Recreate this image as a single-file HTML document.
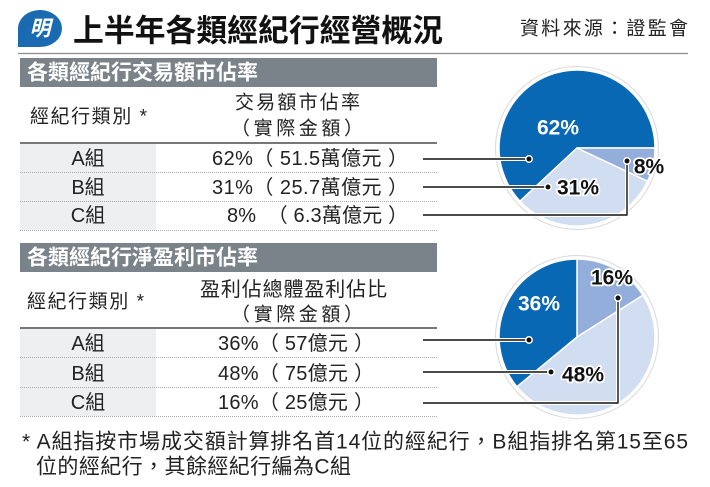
<!DOCTYPE html>
<html><head><meta charset="utf-8"><style>
html,body{margin:0;padding:0;background:#fff;}
svg{display:block;}
text{font-family:"Liberation Sans","Noto Sans CJK TC",sans-serif;}
</style></head><body>
<svg width="710" height="487" viewBox="0 0 710 487" xmlns="http://www.w3.org/2000/svg">
<!-- logo -->
<path d="M18,47 L18,28 A22,18.5 0 1 1 40,47 Z" fill="#1a6ab2"/>
<text x="40" y="29" font-size="21" font-weight="700" font-style="italic" fill="#fff" text-anchor="middle" dominant-baseline="central">明</text>
<!-- title -->
<text x="73" y="31" font-size="31" font-weight="700" fill="#111" dominant-baseline="central" textLength="370" lengthAdjust="spacingAndGlyphs">上半年各類經紀行經營概況</text>
<text x="520" y="29" font-size="19" fill="#222" dominant-baseline="central" textLength="168" lengthAdjust="spacing">資料來源：證監會</text>
<line x1="18" y1="53.5" x2="688" y2="53.5" stroke="#8c8c8c" stroke-width="1.2"/>

<!-- Table 1 -->
<rect x="20" y="58" width="417" height="29" fill="#7a8389"/>
<text x="27" y="73" font-size="21" font-weight="700" fill="#fff" dominant-baseline="central" textLength="231" lengthAdjust="spacingAndGlyphs">各類經紀行交易額市佔率</text>
<text x="30" y="117" font-size="19" fill="#222" dominant-baseline="central" textLength="117" lengthAdjust="spacing">經紀行類別 *</text>
<text x="235" y="103" font-size="19" fill="#222" dominant-baseline="central" textLength="125" lengthAdjust="spacing">交易額市佔率</text>
<text x="231" y="129" font-size="19" fill="#222" dominant-baseline="central" textLength="132" lengthAdjust="spacing">（實際金額）</text>
<rect x="20" y="144" width="136" height="86" fill="#eeeff1"/>
<line x1="20" y1="143" x2="437" y2="143" stroke="#777" stroke-width="2"/>
<line x1="20" y1="172.5" x2="437" y2="172.5" stroke="#aaa" stroke-width="1" stroke-dasharray="1,1"/>
<line x1="20" y1="201.5" x2="437" y2="201.5" stroke="#aaa" stroke-width="1" stroke-dasharray="1,1"/>
<line x1="20" y1="230.5" x2="437" y2="230.5" stroke="#aaa" stroke-width="1" stroke-dasharray="1,1"/>
<g font-size="20" fill="#222" dominant-baseline="central">
<text x="88" y="159" text-anchor="middle">A組</text>
<text x="88" y="188" text-anchor="middle">B組</text>
<text x="88" y="216" text-anchor="middle">C組</text>
<text x="212" y="159" xml:space="preserve" textLength="196" lengthAdjust="spacing">62%（ 51.5萬億元 ）</text>
<text x="212" y="188" xml:space="preserve" textLength="196" lengthAdjust="spacing">31%（ 25.7萬億元 ）</text>
<text x="227" y="216" xml:space="preserve" textLength="181" lengthAdjust="spacing">8%  （ 6.3萬億元 ）</text>
</g>

<!-- Table 2 -->
<rect x="20" y="243" width="417" height="29" fill="#7a8389"/>
<text x="27" y="258" font-size="21" font-weight="700" fill="#fff" dominant-baseline="central" textLength="231" lengthAdjust="spacingAndGlyphs">各類經紀行淨盈利市佔率</text>
<text x="27" y="302" font-size="19" fill="#222" dominant-baseline="central" textLength="117" lengthAdjust="spacing">經紀行類別 *</text>
<text x="200" y="290" font-size="20" fill="#222" dominant-baseline="central" textLength="187" lengthAdjust="spacing">盈利佔總體盈利佔比</text>
<text x="231" y="315" font-size="19" fill="#222" dominant-baseline="central" textLength="132" lengthAdjust="spacing">（實際金額）</text>
<rect x="20" y="329" width="136" height="87" fill="#eeeff1"/>
<line x1="20" y1="328" x2="437" y2="328" stroke="#777" stroke-width="2"/>
<line x1="20" y1="357.5" x2="437" y2="357.5" stroke="#aaa" stroke-width="1" stroke-dasharray="1,1"/>
<line x1="20" y1="387.5" x2="437" y2="387.5" stroke="#aaa" stroke-width="1" stroke-dasharray="1,1"/>
<line x1="20" y1="416.5" x2="437" y2="416.5" stroke="#aaa" stroke-width="1" stroke-dasharray="1,1"/>
<g font-size="20" fill="#222" dominant-baseline="central">
<text x="88" y="344" text-anchor="middle">A組</text>
<text x="88" y="374" text-anchor="middle">B組</text>
<text x="88" y="403" text-anchor="middle">C組</text>
<text x="218" y="344" xml:space="preserve" textLength="156" lengthAdjust="spacing">36%（ 57億元 ）</text>
<text x="218" y="374" xml:space="preserve" textLength="156" lengthAdjust="spacing">48%（ 75億元 ）</text>
<text x="218" y="403" xml:space="preserve" textLength="156" lengthAdjust="spacing">16%（ 25億元 ）</text>
</g>

<!-- Footnote -->
<text x="22" y="442" font-size="21" fill="#222" dominant-baseline="central" textLength="666" lengthAdjust="spacing">* A組指按市場成交額計算排名首14位的經紀行，B組指排名第15至65</text>
<text x="36" y="467" font-size="21" fill="#222" dominant-baseline="central" textLength="315" lengthAdjust="spacing">位的經紀行，其餘經紀行編為C組</text>

<!-- Pie 1 -->
<circle cx="577" cy="148" r="82" fill="#d9d9d9"/>
<circle cx="577" cy="148" r="81" fill="#fff"/>
<g stroke="#fff" stroke-width="1.5" stroke-linejoin="round">
<path d="M577,148 L655,148 A78,78 0 1 0 520,201.2 Z" fill="#0868b4"/>
<path d="M577,148 L520,201.2 A78,78 0 0 0 647.6,181.2 Z" fill="#d1ddf0"/>
<path d="M577,148 L647.6,181.2 A78,78 0 0 0 655,148 Z" fill="#94aedb"/>
</g>
<!-- Pie 2 -->
<circle cx="577" cy="337" r="82" fill="#d9d9d9"/>
<circle cx="577" cy="337" r="81" fill="#fff"/>
<g stroke="#fff" stroke-width="1.5" stroke-linejoin="round">
<path d="M577,337 L577,259 A78,78 0 0 1 642.9,295.2 Z" fill="#94aedb"/>
<path d="M577,337 L642.9,295.2 A78,78 0 0 1 516.9,386.7 Z" fill="#d1ddf0"/>
<path d="M577,337 L516.9,386.7 A78,78 0 0 1 577,259 Z" fill="#0868b4"/>
</g>

<!-- leader lines -->
<g fill="none" stroke="#fff" stroke-width="4" stroke-linejoin="round">
<polyline points="423,159 529,159"/>
<polyline points="423,187 548,187"/>
<polyline points="423,215 627,215 627,161"/>
<polyline points="423,340 529,340"/>
<polyline points="423,372 551,372"/>
<polyline points="423,403 618,403 618,298"/>
</g>
<g fill="none" stroke="#111" stroke-width="1.4" stroke-linejoin="round">
<polyline points="423,159 529,159"/>
<polyline points="423,187 548,187"/>
<polyline points="423,215 627,215 627,161"/>
<polyline points="423,340 529,340"/>
<polyline points="423,372 551,372"/>
<polyline points="423,403 618,403 618,298"/>
</g>
<g fill="#111" stroke="#fff" stroke-width="1.5">
<circle cx="529" cy="159" r="3.2"/>
<circle cx="548" cy="187" r="3.2"/>
<circle cx="627" cy="161" r="3.2"/>
<circle cx="529" cy="340" r="3.2"/>
<circle cx="551" cy="372" r="3.2"/>
<circle cx="618" cy="298" r="3.2"/>
</g>

<!-- pie labels -->
<g font-size="21" font-weight="700" text-anchor="middle" dominant-baseline="central">
<text x="558" y="128" fill="#fff">62%</text>
<text x="539" y="304" fill="#fff">36%</text>
<g fill="#111" stroke="#fff" stroke-width="3.5" paint-order="stroke" stroke-linejoin="round">
<text x="578" y="188">31%</text>
<text x="649" y="167">8%</text>
<text x="583" y="375">48%</text>
<text x="612" y="278">16%</text>
</g>
</g>
</svg>
</body></html>
